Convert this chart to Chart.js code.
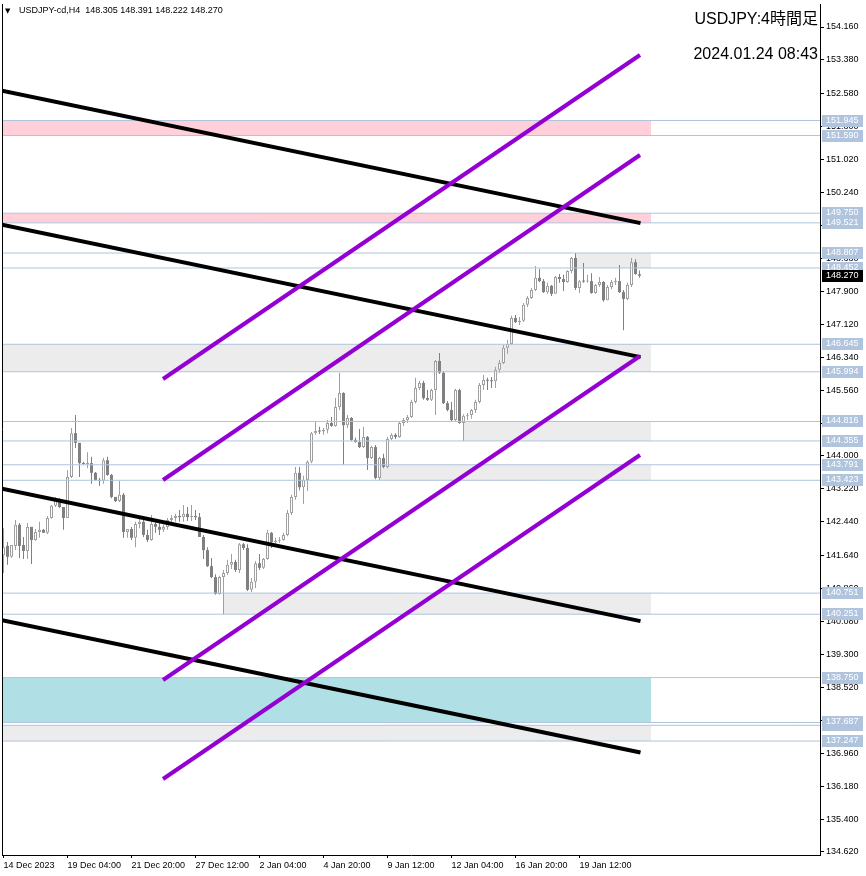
<!DOCTYPE html>
<html>
<head>
<meta charset="utf-8">
<script src="https://cdn.jsdelivr.net/npm/chart.js@4.4.1/dist/chart.umd.min.js"></script>
<style>
html, body { margin: 0; padding: 0; background: #fff; }
</style>
</head>
<body>
<canvas id="myChart" width="866" height="876"></canvas>
<script>
// USDJPY H4 candles, bar index 0 = 14 Dec 2023
const opens = [
    141.65, 141.87, 141.61, 141.87, 142.37, 141.89, 141.75, 142.32, 142.01, 142.20,
    142.25, 142.18, 142.53, 142.82, 142.96, 142.79, 142.53, 143.50, 144.54, 144.31,
    143.83, 143.81, 143.83, 143.60, 143.43, 143.41, 143.90, 143.55, 143.03, 142.93,
    143.08, 142.20, 142.27, 142.06, 142.39, 142.44, 142.13, 142.01, 142.39, 142.32,
    142.25, 142.32, 142.48, 142.53, 142.58, 142.55, 142.63, 142.55, 142.58, 142.55,
    142.08, 141.77, 141.39, 141.13, 140.73, 141.13, 141.23, 141.42, 141.49, 141.30,
    141.91, 141.82, 140.83, 141.02, 141.46, 141.35, 141.56, 142.18, 141.96, 141.99,
    142.01, 142.13, 142.65, 143.03, 143.60, 143.26, 143.43, 143.86, 144.54, 144.59,
    144.58, 144.62, 144.78, 144.71, 145.16, 145.49, 144.73, 144.90, 144.38, 144.33,
    144.21, 144.45, 143.95, 144.21, 143.48, 143.95, 143.74, 144.40, 144.50, 144.45,
    144.78, 144.85, 144.92, 145.28, 145.61, 145.73, 145.37, 145.33, 145.56, 146.25,
    145.97, 145.25, 145.09, 144.85, 145.56, 144.78, 144.95, 144.97, 145.09, 145.28,
    145.68, 145.80, 145.78, 145.77, 146.04, 146.20, 146.56, 146.65, 147.27, 147.17,
    147.20, 147.58, 147.74, 147.93, 148.22, 148.14, 147.88, 148.03, 147.84, 148.24,
    148.19, 148.12, 148.38, 148.69, 147.98, 148.14, 148.13, 148.14, 147.86, 148.05,
    148.12, 147.69, 148.00, 148.12, 148.14, 147.88, 147.72, 148.05, 148.59, 148.305
];
const highs = [
    142.29, 141.96, 141.89, 142.48, 142.41, 142.08, 142.41, 142.32, 142.27, 142.44,
    142.27, 142.58, 142.84, 143.03, 143.00, 142.79, 143.67, 144.66, 144.97, 144.31,
    143.86, 144.09, 143.98, 143.62, 143.48, 143.95, 143.98, 143.57, 143.03, 143.41,
    143.12, 142.27, 142.32, 142.44, 142.51, 142.48, 142.25, 142.60, 142.48, 142.44,
    142.37, 142.53, 142.60, 142.63, 142.72, 142.84, 142.79, 142.84, 142.72, 142.65,
    142.13, 141.84, 141.58, 141.20, 141.16, 141.30, 141.54, 141.68, 141.54, 141.94,
    141.94, 141.91, 141.11, 141.51, 141.68, 141.58, 142.25, 142.20, 142.06, 142.08,
    142.18, 142.72, 143.08, 143.74, 143.74, 143.53, 143.90, 144.57, 144.83, 144.69,
    144.66, 144.85, 144.92, 145.37, 145.97, 145.51, 144.97, 144.92, 144.43, 144.64,
    144.69, 144.47, 144.24, 144.26, 143.98, 144.05, 144.45, 144.54, 144.54, 144.83,
    144.90, 144.97, 145.33, 145.85, 145.78, 145.78, 145.56, 145.59, 146.27, 146.44,
    146.01, 145.30, 145.28, 145.59, 145.59, 144.99, 145.02, 145.11, 145.33, 145.73,
    145.92, 145.85, 145.87, 146.11, 146.27, 146.63, 146.75, 147.32, 147.34, 147.29,
    147.62, 147.79, 147.98, 148.50, 148.43, 148.19, 148.10, 148.05, 148.26, 148.31,
    148.29, 148.40, 148.71, 148.807, 148.17, 148.57, 148.29, 148.33, 148.07, 148.24,
    148.14, 148.05, 148.17, 148.22, 148.52, 147.93, 148.10, 148.69, 148.66, 148.391
];
const lows = [
    141.23, 141.42, 141.58, 141.77, 141.58, 141.56, 141.56, 141.44, 141.99, 142.06,
    142.18, 142.15, 142.51, 142.79, 142.77, 142.25, 142.53, 143.48, 144.19, 143.50,
    143.79, 143.71, 143.34, 143.41, 143.29, 143.34, 143.53, 143.00, 142.91, 142.91,
    142.06, 142.06, 142.01, 141.84, 142.29, 142.08, 141.96, 141.99, 142.18, 142.13,
    142.20, 142.25, 142.41, 142.44, 142.44, 142.44, 142.46, 142.46, 142.48, 142.08,
    141.56, 141.37, 141.11, 140.71, 140.71, 140.251, 141.18, 141.32, 141.25, 141.23,
    141.77, 140.80, 140.78, 140.87, 141.30, 141.32, 141.54, 141.82, 141.89, 141.94,
    141.99, 142.10, 142.60, 142.96, 143.19, 142.86, 143.17, 143.83, 144.50, 144.52,
    144.50, 144.54, 144.69, 144.69, 145.09, 143.79, 144.66, 144.35, 144.31, 144.19,
    144.19, 143.67, 143.93, 143.45, 143.423, 143.71, 143.71, 144.38, 144.40, 144.43,
    144.71, 144.78, 144.90, 145.25, 145.56, 145.33, 145.30, 145.30, 144.97, 145.94,
    145.23, 145.06, 144.83, 144.83, 144.76, 144.355, 144.85, 144.88, 145.02, 145.25,
    145.56, 145.56, 145.61, 145.61, 145.97, 146.18, 146.42, 146.63, 147.15, 147.10,
    147.17, 147.53, 147.72, 147.91, 148.12, 147.86, 147.84, 147.79, 147.84, 148.10,
    147.91, 148.10, 148.33, 147.93, 147.86, 148.10, 148.10, 147.84, 147.84, 148.00,
    147.65, 147.69, 147.95, 148.05, 147.86, 146.98, 147.69, 148.00, 148.29, 148.222
];
const closes = [
    141.84, 141.61, 141.89, 142.37, 141.87, 141.75, 142.32, 142.01, 142.20, 142.25,
    142.18, 142.53, 142.82, 142.96, 142.79, 142.53, 143.50, 144.54, 144.31, 143.83,
    143.81, 143.83, 143.60, 143.43, 143.41, 143.90, 143.55, 143.03, 142.93, 143.08,
    142.20, 142.27, 142.06, 142.39, 142.44, 142.13, 142.01, 142.39, 142.32, 142.25,
    142.32, 142.48, 142.53, 142.58, 142.55, 142.63, 142.55, 142.58, 142.55, 142.08,
    141.77, 141.39, 141.13, 140.73, 141.13, 141.23, 141.42, 141.49, 141.30, 141.91,
    141.82, 140.83, 141.02, 141.46, 141.35, 141.56, 142.18, 141.96, 141.99, 142.01,
    142.13, 142.65, 143.03, 143.60, 143.26, 143.43, 143.86, 144.54, 144.59, 144.58,
    144.62, 144.78, 144.71, 145.16, 145.49, 144.73, 144.90, 144.38, 144.33, 144.21,
    144.45, 143.95, 144.21, 143.48, 143.95, 143.74, 144.40, 144.50, 144.45, 144.78,
    144.85, 144.92, 145.28, 145.61, 145.73, 145.37, 145.33, 145.56, 146.25, 145.97,
    145.25, 145.09, 144.85, 145.56, 144.78, 144.95, 144.97, 145.09, 145.28, 145.68,
    145.80, 145.78, 145.77, 146.04, 146.20, 146.56, 146.65, 147.27, 147.17, 147.20,
    147.58, 147.74, 147.93, 148.22, 148.14, 147.88, 148.03, 147.84, 148.24, 148.19,
    148.12, 148.38, 148.69, 147.98, 148.14, 148.13, 148.14, 147.86, 148.05, 148.12,
    147.69, 148.00, 148.12, 148.14, 147.88, 147.72, 148.05, 148.59, 148.31, 148.270
];

const timeLabels = ["14 Dec 2023", "19 Dec 04:00", "21 Dec 20:00", "27 Dec 12:00", "2 Jan 04:00",
                    "4 Jan 20:00", "9 Jan 12:00", "12 Jan 04:00", "16 Jan 20:00", "19 Jan 12:00"];
const timeLabelBars = [0, 16, 32, 48, 64, 80, 96, 112, 128, 144];

const priceTicks = [154.16, 153.38, 152.58, 151.80, 151.02, 150.24, 149.46, 148.68, 147.90, 147.12,
                    146.34, 145.56, 144.78, 144.00, 143.22, 142.44, 141.64, 140.86, 140.08, 139.30,
                    138.52, 137.74, 136.96, 136.18, 135.40, 134.62];

// horizontal levels (labelled on the price axis)
const levelValues = [151.945, 151.590, 149.750, 149.521, 148.807, 148.452, 146.645, 145.994,
                     144.816, 144.355, 143.791, 143.423, 140.751, 140.251, 138.750, 137.620,
                     137.687, 137.247];

// rectangles: price band + first bar
const zoneTop = [151.945, 149.750, 148.807, 146.645, 144.816, 143.791, 140.751, 138.750, 137.620];
const zoneBottom = [151.590, 149.521, 148.452, 145.994, 144.355, 143.423, 140.251, 137.687, 137.247];
const zoneFromBar = [-1, -1, 143, -1, 115, 94, 55, -1, -1];
const zoneToBar = 161.9;
const zoneKind = ['sell', 'sell', 'range', 'range', 'range', 'range', 'range', 'buy', 'range'];

// trend channels: price at first and last bar
const blackFromBar = -0.375, blackToBar = 159.25;
const blackFrom = [152.650, 149.476, 143.222, 140.110];
const blackTo = [149.515, 146.341, 140.088, 136.975];
const purpleFromBar = 39.875, purpleToBar = 159.125;
const purpleFrom = [145.822, 143.430, 138.693, 136.348];
const purpleTo = [153.497, 151.128, 146.367, 144.022];

const zoneColors = { sell: '#ffd0da', range: '#ececec', buy: '#b0e0e6' };
const upColor = '#a0a0a0';
const downColor = '#808080';
const smallFont = '9px "Liberation Sans"';

const isUp = i => closes[i] >= opens[i];
const bars = opens.map((o, i) => i);

const datasets = [];

zoneTop.forEach((top, z) => {
    datasets.push({
        type: 'line',
        data: [{ x: zoneFromBar[z], y: top }, { x: zoneToBar, y: top }],
        fill: { value: zoneBottom[z] },
        backgroundColor: zoneColors[zoneKind[z]],
        borderColor: 'transparent',
        borderWidth: 0,
        pointRadius: 0,
        order: 10
    });
});

datasets.push({
    type: 'bar',
    data: bars.map(i => ({ x: i, y: [lows[i], highs[i]] })),
    backgroundColor: ctx => isUp(ctx.dataIndex) ? upColor : downColor,
    barThickness: 1,
    minBarLength: 1,
    borderWidth: 0,
    inflateAmount: 0,
    grouped: false,
    order: 4
});

datasets.push({
    type: 'bar',
    data: bars.filter(isUp).map(i => ({ x: i, y: [opens[i], closes[i]] })),
    backgroundColor: '#ffffff',
    borderColor: upColor,
    borderWidth: 1,
    borderSkipped: false,
    barThickness: 3,
    minBarLength: 1,
    inflateAmount: 0,
    grouped: false,
    order: 3
});

datasets.push({
    type: 'bar',
    data: bars.filter(i => !isUp(i)).map(i => ({ x: i, y: [opens[i], closes[i]] })),
    backgroundColor: downColor,
    borderColor: downColor,
    borderWidth: 0,
    borderSkipped: false,
    barThickness: 3,
    minBarLength: 1,
    inflateAmount: 0,
    grouped: false,
    order: 3
});

levelValues.forEach(v => {
    datasets.push({
        type: 'line',
        data: [{ x: -1, y: v }, { x: 205, y: v }],
        borderColor: '#b0c4de',
        borderWidth: 1,
        pointRadius: 0,
        fill: false,
        order: 2
    });
});

blackFrom.forEach((p, n) => {
    datasets.push({
        type: 'line',
        data: [{ x: blackFromBar, y: p }, { x: blackToBar, y: blackTo[n] }],
        borderColor: '#000000',
        borderWidth: 4,
        pointRadius: 0,
        fill: false,
        order: 1
    });
});

purpleFrom.forEach((p, n) => {
    datasets.push({
        type: 'line',
        data: [{ x: purpleFromBar, y: p }, { x: purpleToBar, y: purpleTo[n] }],
        borderColor: '#9400d3',
        borderWidth: 4,
        pointRadius: 0,
        fill: false,
        order: 0
    });
});

// texts and price labels on top of everything
const overlay = {
    id: 'overlay',
    afterDraw(chart) {
        const { ctx, chartArea: a } = chart;
        const y = chart.scales.y;
        const last = opens.length - 1;
        ctx.save();

        ctx.strokeStyle = '#000';
        ctx.lineWidth = 1;
        ctx.beginPath();
        ctx.moveTo(a.left + 0.5, a.top);
        ctx.lineTo(a.left + 0.5, a.bottom);
        ctx.stroke();

        ctx.font = smallFont;
        ctx.textBaseline = 'middle';
        ctx.textAlign = 'left';
        levelValues.forEach(v => {
            const py = Math.round(y.getPixelForValue(v));
            ctx.fillStyle = '#b0c4de';
            ctx.fillRect(a.right + 2, py - 6, 41, 12);
            ctx.fillStyle = '#ffffff';
            ctx.fillText(v.toFixed(3), a.right + 6, py);
        });

        const cy = Math.round(y.getPixelForValue(closes[last]));
        ctx.fillStyle = '#000000';
        ctx.fillRect(a.right + 2, cy - 6, 41, 12);
        ctx.fillStyle = '#ffffff';
        ctx.fillText(closes[last].toFixed(3), a.right + 6, cy);

        ctx.fillStyle = '#000000';
        ctx.font = '7px "DejaVu Sans"';
        ctx.fillText('▼', 5, 11);
        ctx.font = smallFont;
        ctx.fillText('USDJPY-cd,H4  ' + [opens[last], highs[last], lows[last], closes[last]]
            .map(v => v.toFixed(3)).join(' '), 19, 11);

        ctx.font = '16px "Liberation Sans", "Noto Sans CJK JP"';
        ctx.textAlign = 'right';
        ctx.fillText('USDJPY:4時間足', 818, 20);
        ctx.fillText('2024.01.24 08:43', 818, 55);
        ctx.restore();
    }
};

const chart = new Chart(document.getElementById('myChart'), {
    type: 'bar',
    data: { datasets: datasets },
    plugins: [overlay],
    options: {
        responsive: false,
        animation: false,
        devicePixelRatio: 1,
        events: [],
        layout: { padding: { left: 2, top: 4, right: 0, bottom: 0 } },
        plugins: {
            legend: { display: false },
            tooltip: { enabled: false },
            title: { display: false }
        },
        scales: {
            x: {
                type: 'linear',
                min: -0.375,
                max: 204.125,
                offset: false,
                afterBuildTicks: s => { s.ticks = timeLabelBars.map(v => ({ value: v })); },
                afterFit: s => { s.height = 21; s.paddingLeft = 0; s.paddingRight = 0; },
                grid: { drawOnChartArea: false, drawTicks: true, tickLength: 3, color: '#000', offset: false },
                border: { color: '#000', width: 1 },
                ticks: {
                    autoSkip: false,
                    maxRotation: 0,
                    align: 'start',
                    padding: 2,
                    color: '#000',
                    font: { family: 'Liberation Sans', size: 9 },
                    callback: (v, i) => timeLabels[i]
                }
            },
            y: {
                type: 'linear',
                position: 'right',
                min: 134.548,
                max: 154.705,
                afterBuildTicks: s => { s.ticks = priceTicks.map(v => ({ value: v })); },
                afterFit: s => { s.width = 46; s.paddingTop = 0; s.paddingBottom = 0; },
                grid: { drawOnChartArea: false, drawTicks: true, tickLength: 4, color: '#000' },
                border: { color: '#000', width: 1 },
                ticks: {
                    autoSkip: false,
                    padding: 2,
                    color: '#000',
                    font: { family: 'Liberation Sans', size: 9 },
                    callback: v => v.toFixed(3)
                }
            }
        }
    }
});
</script>
</body>
</html>
